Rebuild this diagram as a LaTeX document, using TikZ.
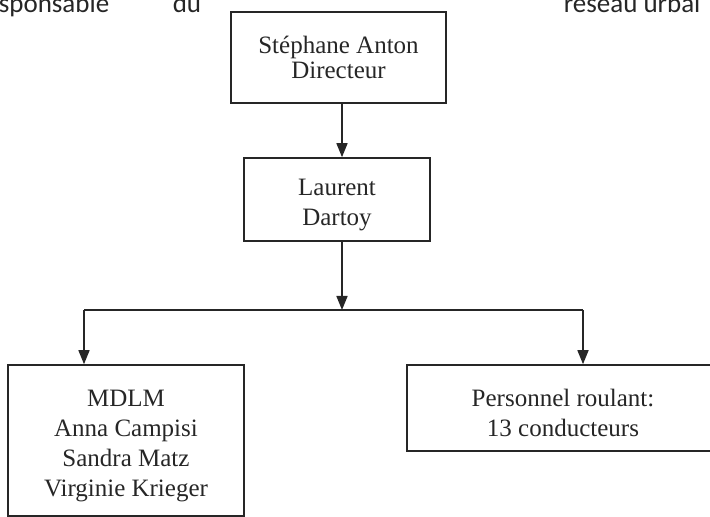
\documentclass[tikz,border=0pt]{standalone}
\usepackage{fontspec}
\setmainfont{Liberation Serif}
\newfontfamily\headfont{Carlito}
\usetikzlibrary{arrows.meta,positioning}

\newcommand{\orgstrut}{\rule{0pt}{27pt}}

\tikzset{
  orgbox/.style={shape=rectangle, draw, line width=1.6pt, inner sep=0pt,
    align=center, font=\fontsize{25}{30}\selectfont},
  headtext/.style={anchor=base west, inner sep=0pt, font=\headfont\fontsize{27}{30}\selectfont}
}

\begin{document}
\begin{tikzpicture}[x=1pt, y=1pt, >={Triangle[length=14pt,width=11pt]}, line width=1.6pt, black!85]
	\useasboundingbox (0,0) rectangle (710,517);
	\clip (0,0) rectangle (710,517);
	% bits of the running text above the chart
	\path (-2,504) node (txtA) [headtext] {sponsable}
		  (172,504) node (txtB) [headtext] {du}
		  (563,504) node (txtC) [headtext] {réseau urbai};
	% boxes
	\path (338.5,459.5) node (directeur) [orgbox, minimum width=215pt, minimum height=91pt] [font=\fontsize{25}{25}\selectfont] {Stéphane Anton\\Directeur}
		  (337,317.5) node (dartoy) [orgbox, minimum width=186pt, minimum height=83pt] {\orgstrut Laurent\\Dartoy}
		  (126,76.5) node (mdlm) [orgbox, minimum width=236pt, minimum height=151pt] {\orgstrut MDLM\\Anna Campisi\\Sandra Matz\\Virginie Krieger}
		  (563,109) node (roulant) [orgbox, minimum width=312pt, minimum height=86pt] {\orgstrut Personnel roulant:\\13 conducteurs};
	\coordinate (split) at (342,207);
	\coordinate (leftdrop) at (84,207);
	\coordinate (rightdrop) at (583,207);
	\draw[->] (directeur.south -| split) -- (dartoy.north -| split);
	\draw[->] (dartoy.south -| split) -- (split);
	\draw (leftdrop) -- (rightdrop);
	\draw[->] (leftdrop) -- (mdlm.north -| leftdrop);
	\draw[->] (rightdrop) -- (roulant.north -| rightdrop);
\end{tikzpicture}
\end{document}
